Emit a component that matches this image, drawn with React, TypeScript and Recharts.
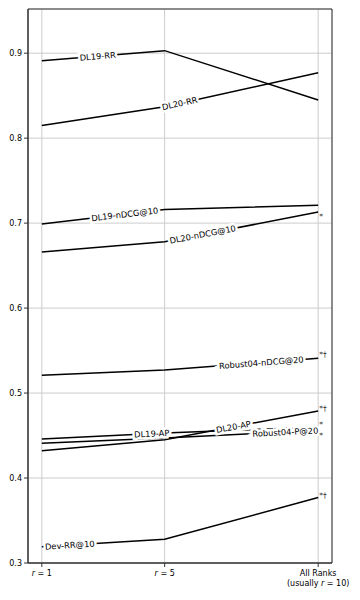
import { CartesianGrid, Line, LineChart, ReferenceArea, ReferenceDot, XAxis, YAxis } from "recharts";

const ranks = [1, 5, 10];
const rankTicks = ["r = 1", "r = 5", "All Ranks"];
const yTicks = [0.3, 0.4, 0.5, 0.6, 0.7, 0.8, 0.9];

const dl19RR = [0.891, 0.903, 0.845];
const dl20RR = [0.815, 0.837, 0.877];
const dl19Ndcg = [0.699, 0.716, 0.721];
const dl20Ndcg = [0.666, 0.678, 0.713];
const robustNdcg = [0.521, 0.527, 0.541];
const dl19AP = [0.446, 0.453, 0.46];
const dl20AP = [0.432, 0.445, 0.479];
const robustP20 = [0.441, 0.447, 0.456];
const devRR = [0.319, 0.328, 0.377];

type Series = {
  key: string;
  name: string;
  values: number[];
  labelAt: number;
  mark: string;
  markDy: number;
};

const series: Series[] = [
  { key: "dl19RR", name: "DL19-RR", values: dl19RR, labelAt: 2.82, mark: "", markDy: 0 },
  { key: "dl20RR", name: "DL20-RR", values: dl20RR, labelAt: 5.49, mark: "", markDy: 0 },
  { key: "dl19Ndcg", name: "DL19-nDCG@10", values: dl19Ndcg, labelAt: 3.7, mark: "", markDy: 0 },
  { key: "dl20Ndcg", name: "DL20-nDCG@10", values: dl20Ndcg, labelAt: 6.24, mark: "*", markDy: 3 },
  { key: "robustNdcg", name: "Robust04-nDCG@20", values: robustNdcg, labelAt: 8.15, mark: "*\u2020", markDy: -5 },
  { key: "dl19AP", name: "DL19-AP", values: dl19AP, labelAt: 4.58, mark: "*", markDy: -4 },
  { key: "dl20AP", name: "DL20-AP", values: dl20AP, labelAt: 7.24, mark: "*\u2020", markDy: -4 },
  { key: "robustP20", name: "Robust04-P@20", values: robustP20, labelAt: 8.93, mark: "*", markDy: 4 },
  { key: "devRR", name: "Dev-RR@10", values: devRR, labelAt: 1.91, mark: "*\u2020", markDy: -4 },
];

const rows = ranks.map((r, i) => {
  const row: Record<string, number> = { r };
  series.forEach((s) => (row[s.key] = s.values[i]));
  return row;
});

const W = 360;
const H = 600;
const margin = { top: 9, right: 28, left: 0, bottom: 0 };
const yAxisW = 28;
const xAxisH = 37;
const xDomain: [number, number] = [0.55, 10.45];
const yDomain: [number, number] = [0.3, 0.952];
const pxPerX = (W - margin.right - yAxisW) / (xDomain[1] - xDomain[0]);
const pxPerY = (H - margin.top - xAxisH) / (yDomain[1] - yDomain[0]);
const font = "DejaVu Sans, sans-serif";

// position along a series between its points, for the inline labels
function interp(values: number[], x: number) {
  for (let i = 0; i < ranks.length - 1; i++) {
    if (x <= ranks[i + 1]) {
      const t = (x - ranks[i]) / (ranks[i + 1] - ranks[i]);
      const slope = (values[i + 1] - values[i]) / (ranks[i + 1] - ranks[i]);
      return { y: values[i] + t * (values[i + 1] - values[i]), slope };
    }
  }
  return { y: values[values.length - 1], slope: 0 };
}

function InlineLabel(props: any) {
  const { cx, cy, text, angle } = props;
  return (
    <text
      x={cx}
      y={cy}
      transform={`rotate(${angle} ${cx} ${cy})`}
      textAnchor="middle"
      dominantBaseline="central"
      fontSize={8.3}
      fontFamily={font}
      fill="#000"
      stroke="#fff"
      strokeWidth={5}
      paintOrder="stroke"
    >
      {text}
    </text>
  );
}

function Mark(props: any) {
  const { cx, cy, text, dy } = props;
  return (
    <text x={cx + 1} y={cy + dy + 4} fontSize={7.5} fontFamily={font} fill="#333">
      {text}
    </text>
  );
}

function RankTick(props: any) {
  const { x, y, payload } = props;
  const idx = ranks.indexOf(payload.value);
  const common = { fontSize: 8, fontFamily: font, fill: "#000", textAnchor: "middle" as const };
  if (idx === 2) {
    return (
      <g>
        <text x={x} y={y} dy="0.71em" {...common}>
          {rankTicks[idx]}
        </text>
        <text x={x} y={y + 10} dy="0.71em" {...common}>
          (usually <tspan fontStyle="italic">r</tspan> = 10)
        </text>
      </g>
    );
  }
  const num = rankTicks[idx].replace("r = ", "");
  return (
    <text x={x} y={y} dy="0.71em" {...common}>
      <tspan fontStyle="italic">r</tspan> = {num}
    </text>
  );
}

export default function App() {
  return (
    <div style={{ position: "absolute", left: 0, top: 0, background: "#fff" }}>
      <LineChart width={W} height={H} data={rows} margin={margin}>
        <CartesianGrid stroke="#cccccc" strokeWidth={1} />
        <XAxis
          dataKey="r"
          type="number"
          domain={xDomain}
          ticks={ranks}
          height={xAxisH}
          tick={<RankTick />}
          tickSize={4}
          tickMargin={3}
          stroke="#333"
          interval={0}
        />
        <YAxis
          type="number"
          domain={yDomain}
          ticks={yTicks}
          width={yAxisW}
          tickFormatter={(v: number) => v.toFixed(1)}
          tick={{ fontSize: 8, fontFamily: font, fill: "#000" }}
          tickSize={4}
          tickMargin={2}
          stroke="#333"
          allowDataOverflow
        />
        <ReferenceArea
          x1={xDomain[0]}
          x2={xDomain[1]}
          y1={yDomain[0]}
          y2={yDomain[1]}
          fill="none"
          stroke="#333"
          strokeWidth={1}
        />
        {series.map((s) => (
          <Line
            key={s.key}
            dataKey={s.key}
            type="linear"
            stroke="#000"
            strokeWidth={1.5}
            dot={false}
            activeDot={false}
            isAnimationActive={false}
          />
        ))}
        {series.map((s) => {
          const p = interp(s.values, s.labelAt);
          const angle = (-Math.atan((p.slope * pxPerY) / pxPerX) * 180) / Math.PI;
          return (
            <ReferenceDot
              key={`lbl-${s.key}`}
              x={s.labelAt}
              y={p.y}
              r={0}
              shape={(dp: any) => <InlineLabel {...dp} text={s.name} angle={angle} />}
            />
          );
        })}
        {series
          .filter((s) => s.mark)
          .map((s) => (
            <ReferenceDot
              key={`mk-${s.key}`}
              x={ranks[2]}
              y={s.values[2]}
              r={0}
              shape={(dp: any) => <Mark {...dp} text={s.mark} dy={s.markDy} />}
            />
          ))}
      </LineChart>
    </div>
  );
}
